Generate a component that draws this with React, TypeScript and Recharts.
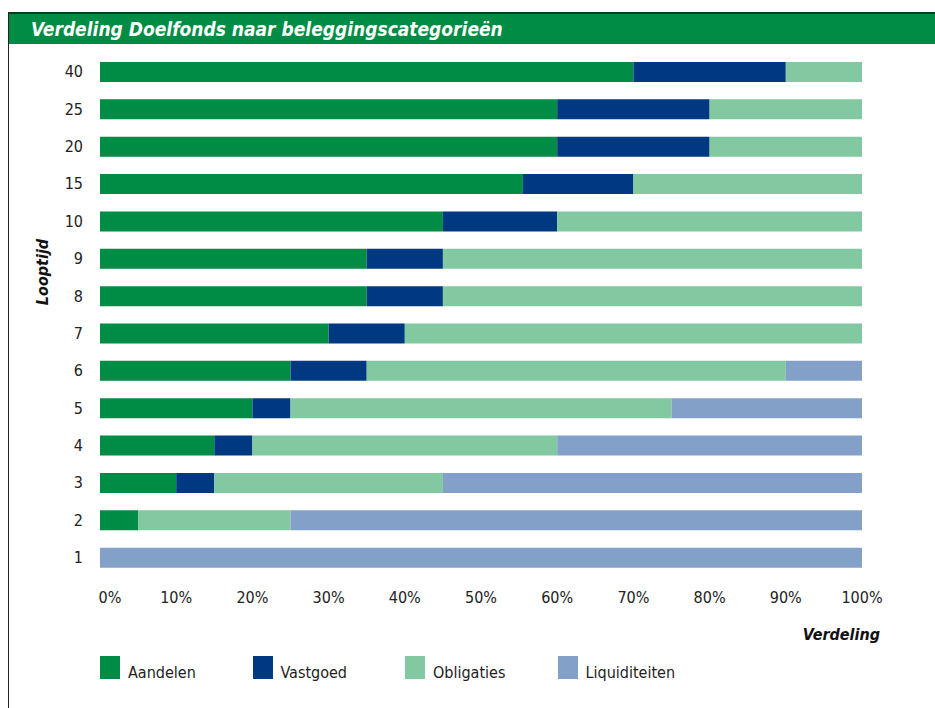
import React from 'react';
import { BarChart, Bar, XAxis, YAxis, Legend } from 'recharts';

// Looptijd (jaren), van boven naar beneden
const looptijden = ['40', '25', '20', '15', '10', '9', '8', '7', '6', '5', '4', '3', '2', '1'];
const aandelen = [70, 60, 60, 55.5, 45, 35, 35, 30, 25, 20, 15, 10, 5, 0];
const vastgoed = [20, 20, 20, 14.5, 15, 10, 10, 10, 10, 5, 5, 5, 0, 0];
const obligaties = [10, 20, 20, 30, 40, 55, 55, 60, 55, 50, 40, 30, 20, 0];
const liquiditeiten = [0, 0, 0, 0, 0, 0, 0, 0, 10, 25, 40, 55, 75, 100];
const xTicks = [0, 10, 20, 30, 40, 50, 60, 70, 80, 90, 100];

const series = [
  { key: 'aandelen', name: 'Aandelen', color: '#008C45' },
  { key: 'vastgoed', name: 'Vastgoed', color: '#003882' },
  { key: 'obligaties', name: 'Obligaties', color: '#82C8A0' },
  { key: 'liquiditeiten', name: 'Liquiditeiten', color: '#82A0C8' },
];

const data = looptijden.map((l, i) => ({
  looptijd: l,
  aandelen: aandelen[i],
  vastgoed: vastgoed[i],
  obligaties: obligaties[i],
  liquiditeiten: liquiditeiten[i],
}));

const FONT = '"Liberation Sans Narrow", "DejaVu Sans Condensed", "Roboto", "Liberation Sans", sans-serif';

const XTick = ({ x, y, payload }: any) => (
  <text
    x={payload.value === 0 ? x + 10 : x}
    y={y}
    dy={6}
    textAnchor="middle"
    dominantBaseline="middle"
    fontFamily={FONT}
    fontSize={16}
    fill="#222"
  >
    {payload.value}%
  </text>
);

const LegendContent = () => (
  <div style={{ position: 'relative', height: 30 }}>
    {series.map((s, i) => (
      <div
        key={s.key}
        style={{ position: 'absolute', left: 100 + i * 152.5, top: 0, display: 'flex', alignItems: 'flex-end' }}
      >
        <div style={{ width: 20, height: 23, background: s.color }} />
        <span style={{ marginLeft: 8, fontFamily: FONT, fontSize: 16, color: '#222', lineHeight: '16px', marginBottom: -2 }}>
          {s.name}
        </span>
      </div>
    ))}
  </div>
);

export default function App() {
  return (
    <div
      style={{
        position: 'absolute',
        left: 0,
        top: 0,
        width: 935,
        height: 708,
        background: '#fff',
        overflow: 'hidden',
        fontFamily: FONT,
      }}
    >
      {/* kader */}
      <div style={{ position: 'absolute', left: 8, top: 12, width: 927, height: 2, background: '#0a3a1e' }} />
      <div style={{ position: 'absolute', left: 8, top: 12, width: 1, height: 696, background: '#222' }} />
      <div
        style={{
          position: 'absolute',
          left: 9,
          top: 14,
          width: 926,
          height: 30,
          background: '#008C45',
          color: '#fff',
          fontWeight: 'bold',
          fontStyle: 'italic',
          fontSize: 19,
          lineHeight: '30px',
          paddingLeft: 22,
          boxSizing: 'border-box',
        }}
      >
        Verdeling Doelfonds naar beleggingscategorieën
      </div>

      <div style={{ position: 'absolute', left: 0, top: 0 }}>
        <BarChart
          width={935}
          height={700}
          data={data}
          layout="vertical"
          barSize={20}
          margin={{ top: 53, right: 73, bottom: 0, left: 0 }}
        >
          <XAxis
            type="number"
            domain={[0, 100]}
            ticks={xTicks}
            axisLine={false}
            tickLine={false}
            tickSize={0}
            tickMargin={16}
            tick={<XTick />}
            height={94}
            interval={0}
          />
          <YAxis
            type="category"
            dataKey="looptijd"
            width={100}
            axisLine={false}
            tickLine={false}
            tickSize={0}
            tickMargin={17}
            tick={{ fontFamily: FONT, fontSize: 16, fill: '#222' }}
            interval={0}
          />
          <Legend
            verticalAlign="bottom"
            align="left"
            content={<LegendContent />}
            wrapperStyle={{ left: 0, bottom: 14, width: 935 }}
          />
          {series.map((s) => (
            <Bar
              key={s.key}
              dataKey={s.key}
              name={s.name}
              stackId="a"
              fill={s.color}
              isAnimationActive={false}
            />
          ))}
        </BarChart>
      </div>

      <div
        style={{
          position: 'absolute',
          right: 55,
          top: 625,
          fontWeight: 'bold',
          fontStyle: 'italic',
          fontSize: 16,
          color: '#111',
        }}
      >
        Verdeling
      </div>
      <div
        style={{
          position: 'absolute',
          left: 42,
          top: 272,
          transform: 'translate(-50%, -50%) rotate(-90deg)',
          fontWeight: 'bold',
          fontStyle: 'italic',
          fontSize: 16,
          color: '#111',
          whiteSpace: 'nowrap',
        }}
      >
        Looptijd
      </div>
    </div>
  );
}
